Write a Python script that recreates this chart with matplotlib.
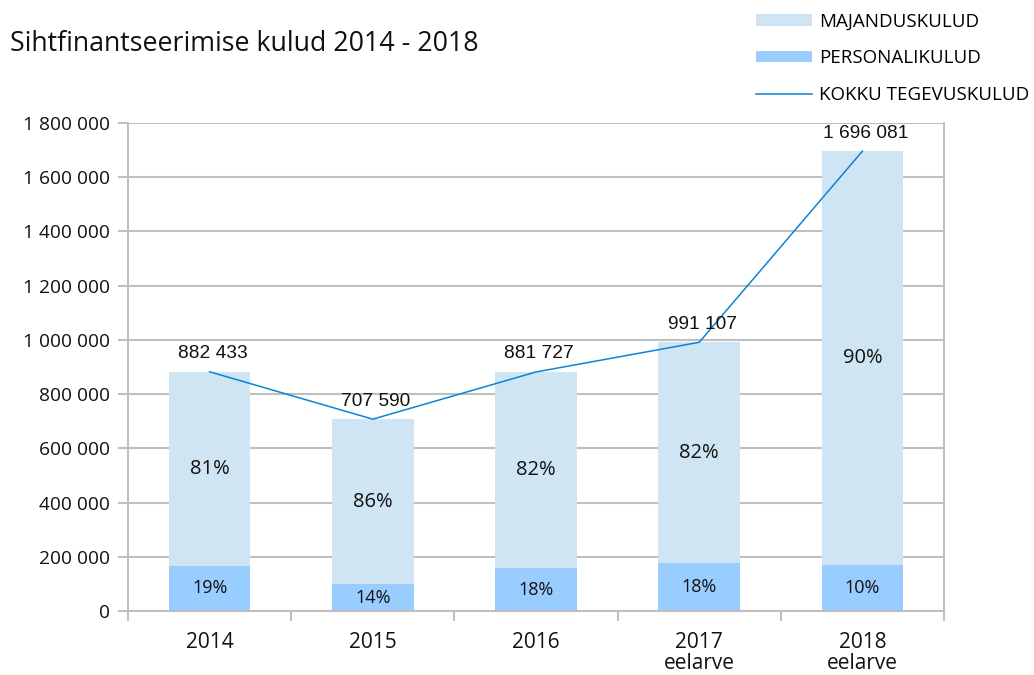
import matplotlib
matplotlib.use("Agg")
import matplotlib.pyplot as plt
from matplotlib.patches import Patch
from matplotlib.lines import Line2D

categories = ["2014", "2015", "2016", "2017\neelarve", "2018\neelarve"]
personal = [167000, 99000, 157000, 178000, 168000]
majandus = [715433, 608590, 724727, 813107, 1528081]
total = [882433, 707590, 881727, 991107, 1696081]
total_labels = ["882 433", "707 590", "881 727", "991 107", "1 696 081"]
maj_pct = ["81%", "86%", "82%", "82%", "90%"]
pers_pct = ["19%", "14%", "18%", "18%", "10%"]
yticks = [0, 200000, 400000, 600000, 800000, 1000000, 1200000, 1400000, 1600000, 1800000]
ytick_labels = ["0", "200 000", "400 000", "600 000", "800 000", "1 000 000",
                "1 200 000", "1 400 000", "1 600 000", "1 800 000"]

C_MAJ = "#cfe5f3"
C_PERS = "#99ccff"
C_LINE = "#0b84d6"
C_GRID = "#bfbfbf"
FONT = ["Open Sans", "DejaVu Sans"]
plt.rcParams["font.family"] = FONT

fig = plt.figure(figsize=(10.34, 6.75), dpi=100)
ax = fig.add_axes([128/1034, 1-611/675, (944-128)/1034, (611-123)/675])

x = list(range(len(categories)))
ax.bar(x, personal, width=0.5, color=C_PERS, zorder=2)
ax.bar(x, majandus, width=0.5, bottom=personal, color=C_MAJ, zorder=2)
ax.plot(x, total, color=C_LINE, lw=1.1, zorder=3)

for i in x:
    ax.text(i + 0.02, total[i] + 35000, total_labels[i], ha="center", va="bottom",
            fontsize=13.8, family="Liberation Sans", color="#111111", zorder=4)
    ax.text(i, personal[i] + majandus[i] / 2, maj_pct[i], ha="center", va="center",
            fontsize=14.5, color="#111111", zorder=4)
    ax.text(i, personal[i] / 2, pers_pct[i], ha="center", va="center",
            fontsize=13, color="#111111", zorder=4)

ax.set_xlim(-0.5, 4.5)
ax.set_ylim(0, 1800000)
ax.set_yticks(yticks)
ax.set_yticklabels(ytick_labels, fontsize=13.8, color="#111111")
ax.yaxis.grid(True, color=C_GRID, lw=1.5, zorder=0)
ax.set_axisbelow(True)

ax.set_xticks([-0.5, 0.5, 1.5, 2.5, 3.5, 4.5])
ax.set_xticklabels([])
ax.set_xticks(x, minor=True)
ax.set_xticklabels(categories, minor=True, fontsize=15, color="#111111", linespacing=1.02)
ax.tick_params(axis="x", which="minor", length=0, pad=15)
ax.tick_params(axis="x", which="major", length=7, width=1.5, color=C_GRID)
ax.tick_params(axis="y", length=7, width=1.5, color=C_GRID, pad=6)

for side in ["left", "right", "bottom"]:
    ax.spines[side].set_color(C_GRID)
    ax.spines[side].set_linewidth(1.5)
ax.spines["top"].set_visible(False)

fig.text(10/1034, 1-44/675, "Sihtfinantseerimise kulud 2014 - 2018", fontsize=19.3,
         ha="left", va="center", color="#111111")

handles = [Patch(facecolor=C_MAJ, edgecolor="none"),
           Patch(facecolor=C_PERS, edgecolor="none"),
           Line2D([0], [0], color=C_LINE, lw=1.1)]
labels = ["MAJANDUSKULUD", "PERSONALIKULUD", "KOKKU TEGEVUSKULUD"]
fig.legend(handles, labels, loc="upper left", bbox_to_anchor=(748/1034, 1-5/675),
           frameon=False, fontsize=13.5, handlelength=3.0, handleheight=0.55,
           handletextpad=0.4, labelspacing=1.0, borderaxespad=0)

fig.savefig("out.png", dpi=100)
